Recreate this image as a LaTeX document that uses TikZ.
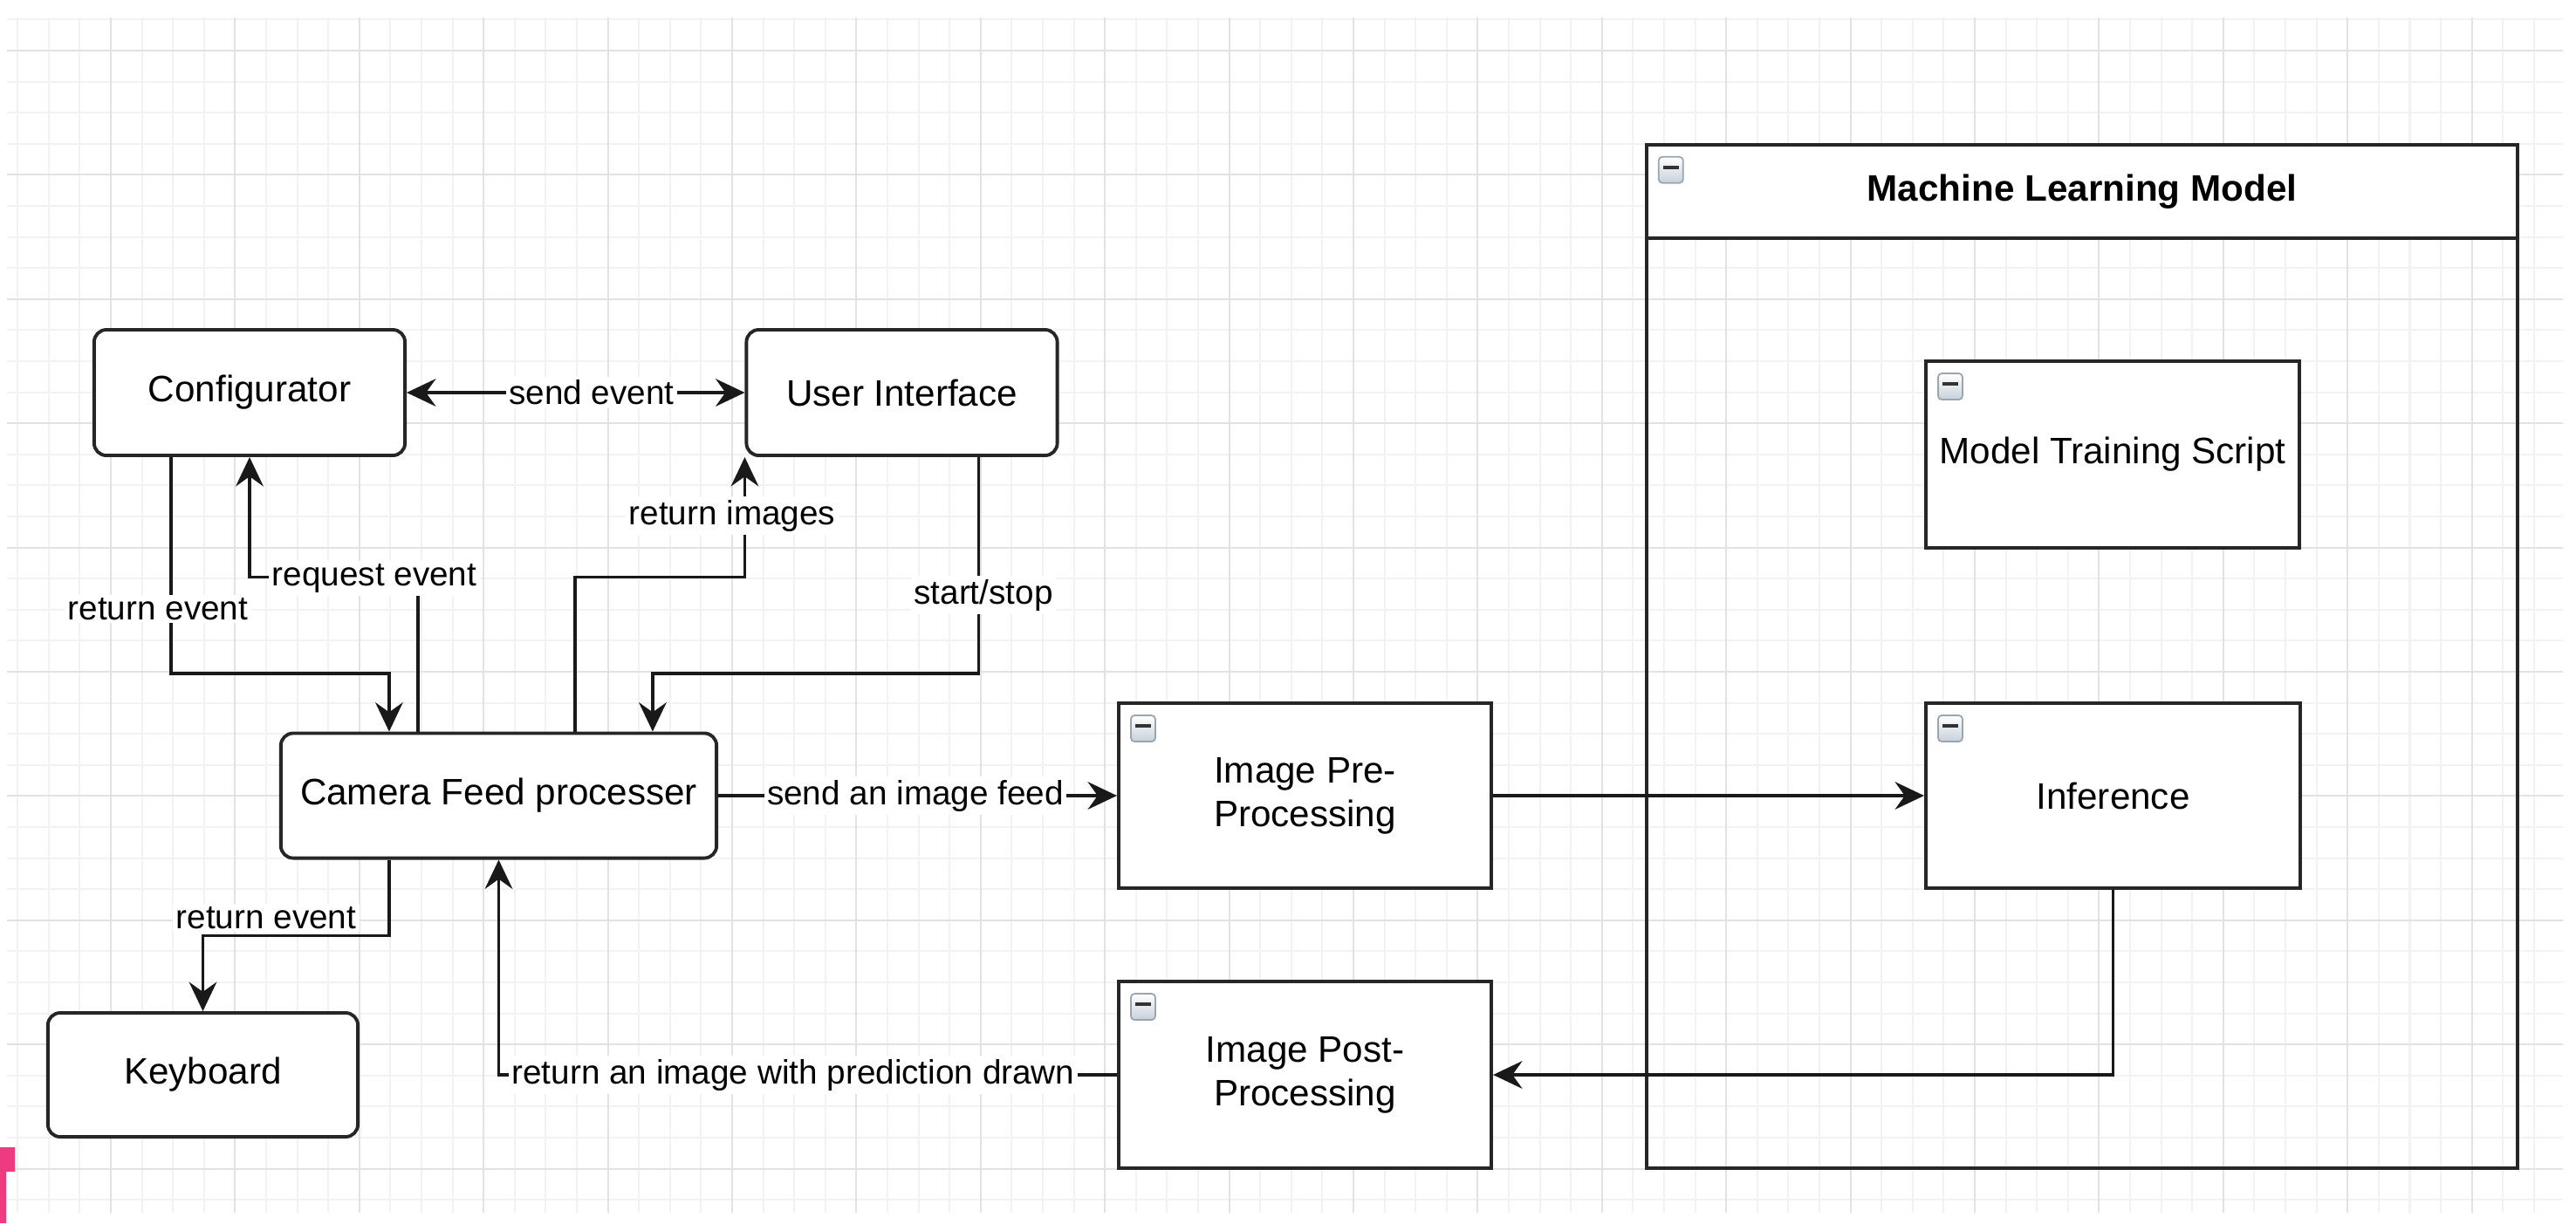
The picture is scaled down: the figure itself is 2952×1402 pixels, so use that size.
\documentclass[tikz,border=0pt]{standalone}
\usepackage{fontspec}
\setmainfont{Liberation Sans}
\usetikzlibrary{arrows.meta,calc}

\definecolor{gridmajor}{HTML}{E2E2E2}
\definecolor{gridminor}{HTML}{F2F2F2}
\definecolor{iconfill}{HTML}{C6D0DA}
\definecolor{iconedge}{HTML}{9AA5B0}
\definecolor{markpink}{HTML}{EE3A7E}

\newcommand{\collapseicon}[1]{%
  \draw[iconedge, line width=0.5pt, top color=white, bottom color=iconfill, rounded corners=1.2pt]
    ($(#1.north west)+(16,16)$) rectangle ++(28,30);
  \draw[black!80, line width=1.1pt] ($(#1.north west)+(21,28)$) -- ++(18,0);
}

\begin{document}
\begin{tikzpicture}[x=0.01cm, y=-0.01cm,
  >={Stealth[length=9.5pt, width=9pt, inset=3.2pt]},
  box/.style={draw=black!85, line width=1.1pt, fill=white, rounded corners=4pt, inner sep=0pt,
    font=\fontsize{12}{14.2}\selectfont},
  block/.style={draw=black!85, line width=1.1pt, fill=white, inner sep=0pt, align=center,
    font=\fontsize{12}{14.2}\selectfont},
  link/.style={black!90, line width=0.95pt, ->},
  lbl/.style={fill=white, inner sep=1pt, font=\fontsize{11}{13}\selectfont}]

  \useasboundingbox (0,0) rectangle (2952,1402);

  % background grid
  \foreach \gx in {0,...,81}
    \draw[gridminor, line width=0.6pt] ({20.2+35.6*\gx},20) -- ({20.2+35.6*\gx},1390);
  \foreach \gy in {0,...,38}
    \draw[gridminor, line width=0.6pt] (8,{22.4+35.6*\gy}) -- (2937,{22.4+35.6*\gy});
  \foreach \gx in {0,...,19}
    \draw[gridmajor, line width=0.6pt] ({127+142.4*\gx},20) -- ({127+142.4*\gx},1390);
  \foreach \gy in {0,...,9}
    \draw[gridmajor, line width=0.6pt] (8,{58+142.4*\gy}) -- (2937,{58+142.4*\gy});

  \fill[markpink] (0,1315) -- (17,1315) -- (17,1343) -- (7,1343) -- (7,1402) -- (0,1402) -- cycle;

  \node[draw=black!85, line width=1.1pt, inner sep=0pt, minimum width=9.98cm, minimum height=11.73cm] (mlm) at (2386,752.5) {};
  \node[block, anchor=north, minimum width=9.98cm, minimum height=1.07cm, font=\fontsize{12}{14.2}\selectfont\bfseries] (mlmhead) at (mlm.north) {Machine Learning Model};

  \node[box, minimum width=3.56cm, minimum height=1.44cm] (conf) at (286,450) {Configurator};
  \node[box, minimum width=3.56cm, minimum height=1.44cm] (ui) at (1033.5,450) {User Interface};
  \node[box, minimum width=4.99cm, minimum height=1.43cm] (cam) at (571.5,912) {Camera Feed processer};
  \node[box, minimum width=3.55cm, minimum height=1.42cm] (kbd) at (232.5,1232) {Keyboard};

  \node[block, minimum width=4.27cm, minimum height=2.12cm] (pre) at (1495.5,912) {Image Pre-\\Processing};
  \node[block, minimum width=4.27cm, minimum height=2.14cm] (post) at (1495.5,1232) {Image Post-\\Processing};
  \node[block, minimum width=4.29cm, minimum height=2.12cm] (inf) at (2421.5,912) {Inference};
  \node[block, minimum width=4.28cm, minimum height=2.14cm] (train) at (2421,521) {Model Training Script};

  \draw[link, <->] (conf) -- (ui);
  \draw[link] ($(conf.south west)+(90,0)$) -- ++(0,248) -| ($(cam.north west)+(126,0)$);
  \draw[link] ($(cam.north west)+(159,0)$) -- ++(0,-177) -| (conf.south);
  \draw[link] ($(cam.north west)+(339,0)$) -- ++(0,-177) -| (ui.south west);
  \draw[link] ($(ui.south west)+(268,0)$) -- ++(0,248) -| ($(cam.north west)+(428,0)$);
  \draw[link] (cam) -- (pre);
  \draw[link] (pre) -- (inf);
  \draw[link] (inf.south) |- (post.east);
  \draw[link] (post.west) -| (cam.south);
  \draw[link] ($(cam.south west)+(126,0)$) -- ++(0,87) -| (kbd.north);

  \node[lbl] (sendev) at (678,450) {send event};
  \node[lbl] (retev) at (181,698) {return event};
  \node[lbl] (reqev) at (429,663) {request event};
  \node[lbl] (retimg) at (839,591) {return images};
  \node[lbl] (startstop) at (1127,682) {start/stop};
  \node[lbl] (sendfeed) at (1049,912) {send an image feed};
  \node[lbl] (retkbd) at (305,1052) {return event};
  \node[lbl] (retpred) at (909,1232) {return an image with prediction drawn};

  \collapseicon{mlm}
  \collapseicon{train}
  \collapseicon{inf}
  \collapseicon{pre}
  \collapseicon{post}
\end{tikzpicture}
\end{document}
